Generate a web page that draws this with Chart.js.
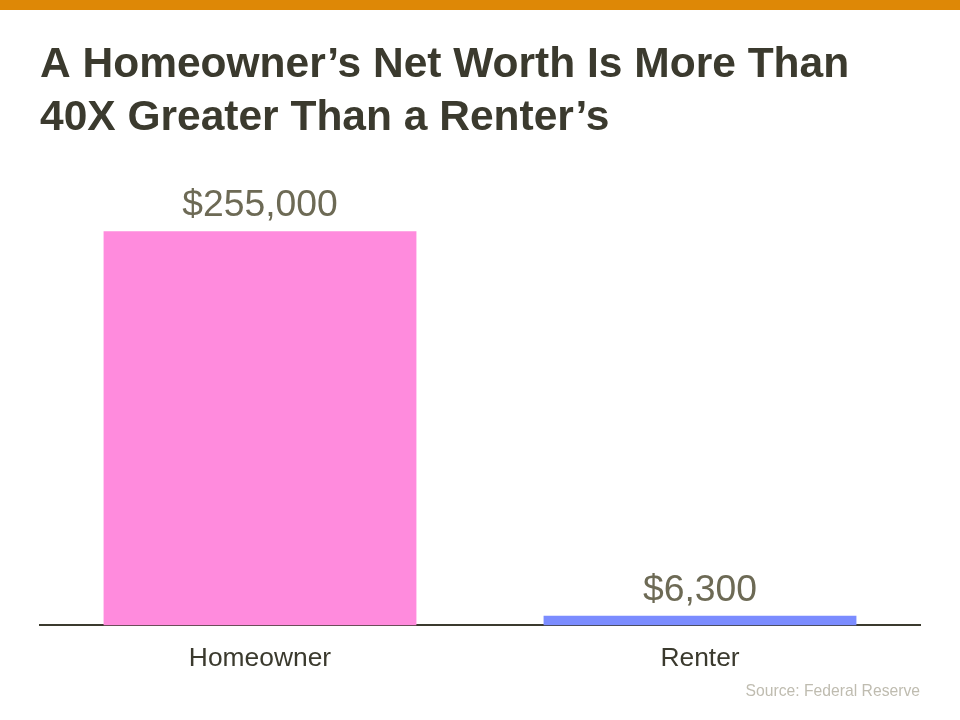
<!DOCTYPE html>
<html>
<head>
<meta charset="utf-8">
<script src="https://cdn.jsdelivr.net/npm/chart.js@4"></script>
<style>
  body { margin: 0; background: #fff; }
  #wrap { position: relative; width: 960px; height: 720px; }
  #topBar { position: absolute; left: 0; top: 0; width: 960px; height: 10px; background: #de8806; z-index: 2; }
  canvas { position: absolute; left: 0; top: 0; }
</style>
</head>
<body>
<div id="wrap">
  <div id="topBar"></div>
  <canvas id="worthChart" width="960" height="720"></canvas>
</div>
<script>
const categories = ["Homeowner", "Renter"];
const netWorth = [255000, 6300];
const barColors = ["#ff8bdd", "#7b8cff"];
const titleLines = ["A Homeowner\u2019s Net Worth Is More Than", "40X Greater Than a Renter\u2019s"];
const sourceText = "Source: Federal Reserve";

const fontFamily = "'Liberation Sans', Arial, sans-serif";

// draws "$255,000" style labels over each bar
const valueLabels = {
  id: "valueLabels",
  afterDatasetsDraw(chart) {
    const ctx = chart.ctx;
    const meta = chart.getDatasetMeta(0);
    ctx.save();
    ctx.font = `37.3px ${fontFamily}`;
    ctx.fillStyle = "#6d6a55";
    ctx.textAlign = "center";
    ctx.textBaseline = "alphabetic";
    meta.data.forEach((bar, i) => {
      ctx.fillText("$" + netWorth[i].toLocaleString("en-US"), bar.x, bar.y - 15);
    });
    ctx.restore();
  }
};

new Chart(document.getElementById("worthChart"), {
  type: "bar",
  data: {
    labels: categories,
    datasets: [{
      data: netWorth,
      backgroundColor: barColors,
      borderWidth: 0,
      barPercentage: 0.711,
      categoryPercentage: 1
    }]
  },
  options: {
    responsive: false,
    animation: false,
    layout: { padding: { left: 40, right: 40, top: 0, bottom: 0 } },
    plugins: {
      legend: { display: false },
      tooltip: { enabled: false },
      title: {
        display: true,
        text: titleLines,
        align: "start",
        color: "#3b3a2e",
        font: { family: fontFamily, size: 42.5, weight: "bold", lineHeight: 1.247 },
        padding: { top: 39, bottom: 26 }
      },
      subtitle: {
        display: true,
        text: sourceText,
        position: "bottom",
        align: "end",
        color: "#bfbcb0",
        font: { family: fontFamily, size: 15.7, lineHeight: 1.2 },
        padding: { top: -9, bottom: 19 }
      }
    },
    scales: {
      x: {
        grid: { display: false, drawTicks: false },
        border: { display: true, color: "#3b3a2e", width: 2 },
        ticks: { color: "#3b3a2e", font: { family: fontFamily, size: 26.4 }, padding: 17 }
      },
      y: {
        display: false,
        min: 0,
        max: 293900
      }
    }
  },
  plugins: [valueLabels]
});
</script>
</body>
</html>
